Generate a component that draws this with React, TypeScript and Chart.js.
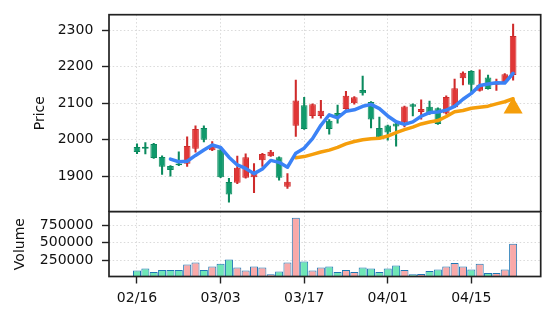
import React, { useEffect, useRef } from 'react';
import { Chart, registerables } from 'chart.js';

Chart.register(...registerables);

// ---- data ----
const openPrices = [1980, 1981, 1988, 1953, 1928, 1935, 1934, 1975, 2032, 1971, 1973, 1884, 1882, 1896, 1897, 1944, 1955, 1952, 1871, 2038, 2094, 2065, 2065, 2052, 2073, 2084, 2100, 2136, 2103, 2032, 2039, 2044, 2048, 2097, 2076, 2090, 2086, 2072, 2089, 2168, 2188, 2134, 2170, 2150, 2158, 2177];
const highPrices = [1989, 1992, 1990, 1956, 1929, 1967, 2008, 2038, 2038, 1995, 1976, 1894, 1955, 1961, 1935, 1963, 1971, 1953, 1907, 2163, 2116, 2098, 2108, 2055, 2095, 2132, 2118, 2174, 2104, 2062, 2040, 2045, 2092, 2098, 2109, 2106, 2087, 2120, 2166, 2186, 2189, 2191, 2177, 2166, 2181, 2316];
const lowPrices = [1962, 1961, 1949, 1905, 1900, 1929, 1927, 1966, 1994, 1970, 1896, 1829, 1880, 1895, 1855, 1927, 1954, 1889, 1867, 2009, 2028, 2059, 2059, 2015, 2045, 2083, 2097, 2122, 2032, 2006, 1999, 1982, 2035, 2065, 2056, 2069, 2042, 2070, 2088, 2150, 2131, 2133, 2138, 2135, 2157, 2163];
const closePrices = [1966, 1975, 1950, 1926, 1917, 1930, 1983, 2029, 2000, 1985, 1897, 1850, 1923, 1952, 1914, 1961, 1967, 1896, 1885, 2107, 2029, 2097, 2079, 2029, 2065, 2120, 2116, 2127, 2055, 2007, 2020, 2036, 2091, 2090, 2084, 2070, 2043, 2117, 2141, 2183, 2150, 2150, 2139, 2157, 2179, 2284];
const volumes = [98000, 127000, 79000, 107000, 107000, 107000, 184000, 213000, 107000, 156000, 198000, 256000, 141000, 98000, 156000, 141000, 46000, 84000, 213000, 856000, 227000, 98000, 141000, 156000, 79000, 107000, 79000, 141000, 127000, 79000, 127000, 170000, 107000, 46000, 50000, 93000, 113000, 156000, 207000, 156000, 113000, 198000, 64000, 64000, 113000, 484000];
const ma5 = [null, null, null, null, 1946.8, 1939.6, 1941.2, 1957.0, 1971.8, 1985.4, 1978.8, 1952.2, 1931.0, 1921.4, 1907.2, 1920.0, 1943.4, 1938.0, 1924.6, 1963.2, 1976.8, 2002.8, 2039.4, 2068.2, 2059.8, 2078.0, 2081.8, 2091.4, 2096.6, 2085.0, 2065.0, 2049.0, 2041.8, 2048.8, 2064.2, 2074.2, 2075.6, 2080.8, 2091.0, 2110.8, 2126.8, 2148.2, 2152.6, 2155.8, 2155.0, 2181.8];
const ma20 = [null, null, null, null, null, null, null, null, null, null, null, null, null, null, null, null, null, null, null, 1950.7, 1953.8, 1959.9, 1966.4, 1971.5, 1978.9, 1988.4, 1995.1, 2000.0, 2002.7, 2003.8, 2010.0, 2019.3, 2027.7, 2034.6, 2043.1, 2048.5, 2052.3, 2063.4, 2076.2, 2080.0, 2086.0, 2088.7, 2091.7, 2098.1, 2103.8, 2112.0];
const signalIndex = [45];
const signalPrice = [2087];
const xTickIdx = [0, 10, 20, 30, 40];
const xTickLabels = ['02/16', '03/03', '03/17', '04/01', '04/15'];
const priceTicks = [1900, 2000, 2100, 2200, 2300];
const volumeTicks = [250000, 500000, 750000];
const priceRange = [1803, 2342];
const xRange = [-3.35, 48.3];

// ---- styles ----
const FONT = { family: 'DejaVu Sans', size: 14 };
const TEXT = '#111111';
const GRID = '#dadada';
const DASH = [1.5, 2.2];
const FRAME = '#222222';
const UP_FILL = '#e03636';
const UP_EDGE = '#cf2b2b';
const DN_FILL = '#109a6c';
const DN_EDGE = '#0b8a5e';
const VOL_UP = '#f9a9a9';
const VOL_DN = '#6ee6b6';
const VOL_EDGE = '#1f77b4';
const MA5_COLOR = '#3b82f6';
const MA20_COLOR = '#f59e0b';

const isUp = (i: number) => closePrices[i] >= openPrices[i];

const framePlugin = {
  id: 'frame',
  afterDraw(chart: any) {
    const { ctx, chartArea: a } = chart;
    ctx.save();
    ctx.strokeStyle = FRAME;
    ctx.lineWidth = 1.7;
    ctx.strokeRect(a.left, a.top, a.right - a.left, a.bottom - a.top);
    ctx.restore();
  },
};

function xScale(showLabels: boolean) {
  return {
    type: 'linear',
    min: xRange[0],
    max: xRange[1],
    offset: false,
    afterBuildTicks: (s: any) => {
      s.ticks = xTickIdx.map((v) => ({ value: v }));
    },
    afterFit: (s: any) => {
      s.height = showLabels ? 45.5 : 0;
      s.paddingLeft = 0;
      s.paddingRight = 0;
    },
    ticks: {
      display: showLabels,
      autoSkip: false,
      maxRotation: 0,
      minRotation: 0,
      padding: 6.9,
      color: TEXT,
      font: FONT,
      callback: (v: number) => {
        const k = xTickIdx.indexOf(v);
        return k >= 0 ? xTickLabels[k] : '';
      },
    },
    grid: {
      offset: false,
      color: GRID,
      lineWidth: 1,
      drawTicks: showLabels,
      tickLength: 7,
      tickColor: FRAME,
      tickWidth: 1.4,
    },
    border: { display: false, dash: DASH },
  };
}

function yScale(min: number, max: number, tickVals: number[], title: string, titlePad: number) {
  return {
    type: 'linear',
    position: 'left',
    min,
    max,
    afterBuildTicks: (s: any) => {
      s.ticks = tickVals.map((v) => ({ value: v }));
    },
    afterFit: (s: any) => {
      s.width = 109;
      s.paddingTop = 0;
      s.paddingBottom = 0;
    },
    ticks: {
      padding: 8.7,
      color: TEXT,
      font: FONT,
      callback: (v: number) => String(v),
    },
    grid: {
      color: GRID,
      lineWidth: 1,
      drawTicks: true,
      tickLength: 7,
      tickColor: FRAME,
      tickWidth: 1.4,
    },
    border: { display: false, dash: DASH },
    title: {
      display: true,
      text: title,
      color: TEXT,
      font: FONT,
      padding: { top: titlePad, bottom: 0 },
    },
  };
}

export default function App() {
  const priceRef = useRef<HTMLCanvasElement>(null);
  const volRef = useRef<HTMLCanvasElement>(null);

  useEffect(() => {
    const idx = openPrices.map((_, i) => i);
    const priceChart = new Chart(priceRef.current as HTMLCanvasElement, {
      type: 'bar',
      data: {
        datasets: [
          {
            type: 'scatter',
            label: 'signal',
            data: signalIndex.map((x, k) => ({ x, y: signalPrice[k] })),
            pointStyle: 'triangle',
            pointRadius: 11,
            backgroundColor: MA20_COLOR,
            borderColor: MA20_COLOR,
            borderWidth: 0,
            order: 0,
          } as any,
          {
            type: 'line',
            label: 'MA5',
            data: idx.map((i) => ({ x: i, y: ma5[i] })),
            borderColor: MA5_COLOR,
            borderWidth: 3.5,
            pointRadius: 0,
            tension: 0,
            borderJoinStyle: 'round',
            borderCapStyle: 'round',
            order: 1,
          } as any,
          {
            type: 'line',
            label: 'MA20',
            data: idx.map((i) => ({ x: i, y: ma20[i] })),
            borderColor: MA20_COLOR,
            borderWidth: 3.5,
            pointRadius: 0,
            tension: 0,
            borderJoinStyle: 'round',
            borderCapStyle: 'round',
            order: 1,
          } as any,
          {
            type: 'bar',
            label: 'body',
            data: idx.map((i) => ({ x: i, y: [openPrices[i], closePrices[i]] })),
            backgroundColor: idx.map((i) => (isUp(i) ? UP_FILL : DN_FILL)),
            borderColor: idx.map((i) => (isUp(i) ? UP_EDGE : DN_EDGE)),
            borderWidth: 1,
            borderSkipped: false,
            grouped: false,
            barPercentage: 0.8,
            categoryPercentage: 1,
            order: 2,
          } as any,
          {
            type: 'bar',
            label: 'wick',
            data: idx.map((i) => ({ x: i, y: [lowPrices[i], highPrices[i]] })),
            backgroundColor: idx.map((i) => (isUp(i) ? UP_EDGE : DN_EDGE)),
            borderWidth: 0,
            grouped: false,
            barThickness: 1.4,
            order: 3,
          } as any,
        ],
      },
      options: {
        animation: false,
        responsive: false,
        devicePixelRatio: 1,
        layout: { autoPadding: false, padding: { top: 14.7, right: 15.3, bottom: 0.3, left: 0 } },
        plugins: { legend: { display: false }, tooltip: { enabled: false } },
        scales: {
          x: xScale(false) as any,
          y: yScale(priceRange[0], priceRange[1], priceTicks, 'Price', 32.4) as any,
        },
      },
      plugins: [framePlugin],
    });

    const volChart = new Chart(volRef.current as HTMLCanvasElement, {
      type: 'bar',
      data: {
        datasets: [
          {
            label: 'Volume',
            data: idx.map((i) => ({ x: i, y: volumes[i] })),
            backgroundColor: idx.map((i) => (isUp(i) ? VOL_UP : VOL_DN)),
            borderColor: VOL_EDGE,
            borderWidth: 1,
            barPercentage: 0.96,
            categoryPercentage: 1,
            grouped: false,
          } as any,
        ],
      },
      options: {
        animation: false,
        responsive: false,
        devicePixelRatio: 1,
        layout: { autoPadding: false, padding: { top: 11.7, right: 15.3, bottom: 0, left: 0 } },
        plugins: { legend: { display: false }, tooltip: { enabled: false } },
        scales: {
          x: xScale(true) as any,
          y: yScale(0.3 * Math.min(...volumes), 1.1 * Math.max(...volumes), volumeTicks, 'Volume', 11.9) as any,
        },
      },
      plugins: [framePlugin],
    });

    return () => {
      priceChart.destroy();
      volChart.destroy();
    };
  }, []);

  return (
    <div style={{ position: 'absolute', left: 0, top: 0, width: 556, height: 322, background: '#ffffff' }}>
      <canvas ref={priceRef} width={556} height={212} style={{ position: 'absolute', left: 0, top: 0 }} />
      <canvas ref={volRef} width={556} height={122} style={{ position: 'absolute', left: 0, top: 200 }} />
    </div>
  );
}
